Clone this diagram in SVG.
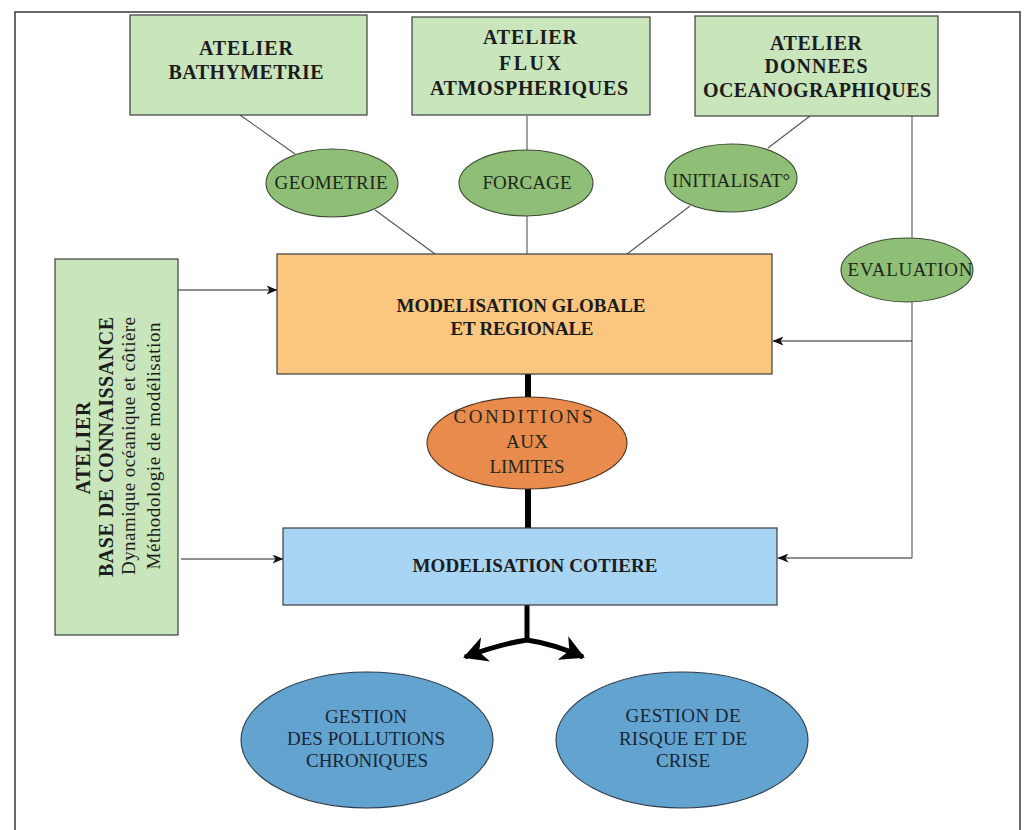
<svg xmlns="http://www.w3.org/2000/svg" width="1033" height="830" viewBox="0 0 1033 830">
  <style>
    .frame { fill: none; stroke: #3a3a3a; stroke-width: 1.5; }
    .box { stroke: #3c3c3c; stroke-width: 1.2; }
    .atelier { fill: #c8e5bb; }
    .ell-green { fill: #8fbe76; stroke: #3c4a36; stroke-width: 1.1; }
    .global { fill: #fbc67f; }
    .cotiere { fill: #a8d5f4; }
    .limites { fill: #e98b4c; stroke: #4a3320; stroke-width: 1.1; }
    .gestion { fill: #62a3cf; stroke: #2c3a48; stroke-width: 1.1; }
    .link { fill: none; stroke: #555; stroke-width: 1.1; }
    .arrow { fill: none; stroke: #222; stroke-width: 1.1; }
    .thick { fill: none; stroke: #000; stroke-width: 6; }
    .fat { fill: none; stroke: #000; stroke-width: 5; }
    text { font-family: "Liberation Serif", "Times New Roman", serif; font-size: 19px; fill: #1c1c1c; text-anchor: middle; }
    .b { font-weight: bold; font-size: 20px; }
    .m { font-weight: bold; font-size: 19px; }
    .e { fill: #1d261a; }
    .g { fill: #1a2533; }
  </style>
  <defs>
    <marker id="tip" markerUnits="userSpaceOnUse" markerWidth="11" markerHeight="9" viewBox="0 0 11 9" refX="10.5" refY="4.5" orient="auto">
      <path d="M0,0 L11,4.5 L0,9 L3,4.5 z" fill="#111"/>
    </marker>
    <marker id="bigtip" markerUnits="userSpaceOnUse" markerWidth="24" markerHeight="26" viewBox="0 0 24 26" refX="22" refY="13" orient="auto">
      <path d="M0,0 L24,13 L0,26 L7,13 z" fill="#000"/>
    </marker>
  </defs>

  <rect width="1033" height="830" fill="#ffffff"/>
  <path class="frame" d="M15,834 V12 H1020 V834"/>

  <!-- connectors -->
  <g id="connectors">
    <line class="link" x1="240" y1="115" x2="295" y2="154"/>
    <line class="link" x1="375" y1="210" x2="435" y2="254"/>
    <line class="link" x1="527" y1="116" x2="527" y2="150"/>
    <line class="link" x1="527" y1="216" x2="527" y2="254"/>
    <line class="link" x1="810" y1="116" x2="768" y2="148"/>
    <line class="link" x1="690" y1="206" x2="627" y2="254"/>
    <line class="link" x1="912" y1="116" x2="912" y2="238"/>
    <path class="link" d="M912,302 V558"/>
    <path class="arrow" d="M912,341 H773" marker-end="url(#tip)"/>
    <path class="arrow" d="M912,558 H778" marker-end="url(#tip)"/>
    <path class="arrow" d="M178,290 H277" marker-end="url(#tip)"/>
    <path class="arrow" d="M181,559 H283" marker-end="url(#tip)"/>
    <line class="thick" x1="528" y1="374" x2="528" y2="400"/>
    <line class="thick" x1="528" y1="486" x2="528" y2="528"/>
    <line class="fat" x1="527" y1="605" x2="527" y2="642"/>
    <path class="fat" d="M527,640 Q500,644 465,657" marker-end="url(#bigtip)"/>
    <path class="fat" d="M527,640 Q554,644 583,657" marker-end="url(#bigtip)"/>
  </g>

  <!-- workshops -->
  <g id="atelier-bathymetrie">
    <rect class="box atelier" x="130" y="15" width="237" height="100"/>
    <text class="b" x="246" y="55" textLength="94">ATELIER</text>
    <text class="b" x="246" y="79" textLength="155">BATHYMETRIE</text>
  </g>
  <g id="atelier-flux">
    <rect class="box atelier" x="412" y="17" width="238" height="98"/>
    <text class="b" x="530" y="44" textLength="94">ATELIER</text>
    <text class="b" x="530" y="70" textLength="62">FLUX</text>
    <text class="b" x="529" y="95" textLength="198">ATMOSPHERIQUES</text>
  </g>
  <g id="atelier-donnees">
    <rect class="box atelier" x="695" y="16" width="243" height="100"/>
    <text class="b" x="816" y="50" textLength="92">ATELIER</text>
    <text class="b" x="816" y="73" textLength="103">DONNEES</text>
    <text class="b" x="817" y="97" textLength="228">OCEANOGRAPHIQUES</text>
  </g>

  <g id="geometrie">
    <ellipse class="ell-green" cx="332" cy="183" rx="66" ry="34"/>
    <text class="e" x="331" y="189" textLength="113">GEOMETRIE</text>
  </g>
  <g id="forcage">
    <ellipse class="ell-green" cx="526" cy="183" rx="67" ry="33"/>
    <text class="e" x="527" y="189" textLength="89">FORCAGE</text>
  </g>
  <g id="initialisation">
    <ellipse class="ell-green" cx="731" cy="178" rx="66" ry="34"/>
    <text class="e" x="731" y="187" textLength="118">INITIALISAT°</text>
  </g>
  <g id="evaluation">
    <ellipse class="ell-green" cx="907" cy="270" rx="66" ry="32"/>
    <text class="e" x="910" y="276" textLength="125">EVALUATION</text>
  </g>

  <g id="base-connaissance">
    <rect class="box atelier" x="55" y="259" width="123" height="376"/>
    <text class="b" transform="translate(90,448) rotate(-90)" textLength="93">ATELIER</text>
    <text class="b" transform="translate(113,447) rotate(-90)" textLength="260">BASE DE CONNAISSANCE</text>
    <text transform="translate(135,446) rotate(-90)" textLength="258">Dynamique océanique et côtière</text>
    <text transform="translate(160,446) rotate(-90)" textLength="247">Méthodologie de modélisation</text>
  </g>

  <g id="modelisation-globale">
    <rect class="box global" x="277" y="254" width="495" height="120"/>
    <text class="m" x="521" y="312" textLength="249">MODELISATION GLOBALE</text>
    <text class="m" x="522" y="335" textLength="143">ET REGIONALE</text>
  </g>

  <g id="conditions-limites">
    <ellipse class="limites" cx="527" cy="443" rx="100" ry="46"/>
    <text class="e" x="523" y="423" textLength="139">CONDITIONS</text>
    <text class="e" x="527" y="448" textLength="42">AUX</text>
    <text class="e" x="527" y="473" textLength="75">LIMITES</text>
  </g>

  <g id="modelisation-cotiere">
    <rect class="box cotiere" x="283" y="528" width="494" height="77"/>
    <text class="m" x="535" y="572" textLength="245">MODELISATION COTIERE</text>
  </g>

  <g id="gestion-pollutions">
    <ellipse class="gestion" cx="367" cy="740" rx="126" ry="68"/>
    <text class="g" x="366" y="723" textLength="82">GESTION</text>
    <text class="g" x="366" y="745" textLength="158">DES POLLUTIONS</text>
    <text class="g" x="367" y="767" textLength="122">CHRONIQUES</text>
  </g>
  <g id="gestion-risque">
    <ellipse class="gestion" cx="682" cy="740" rx="126" ry="68"/>
    <text class="g" x="683" y="722" textLength="115">GESTION DE</text>
    <text class="g" x="683" y="745" textLength="128">RISQUE ET DE</text>
    <text class="g" x="683" y="767" textLength="54">CRISE</text>
  </g>
</svg>
